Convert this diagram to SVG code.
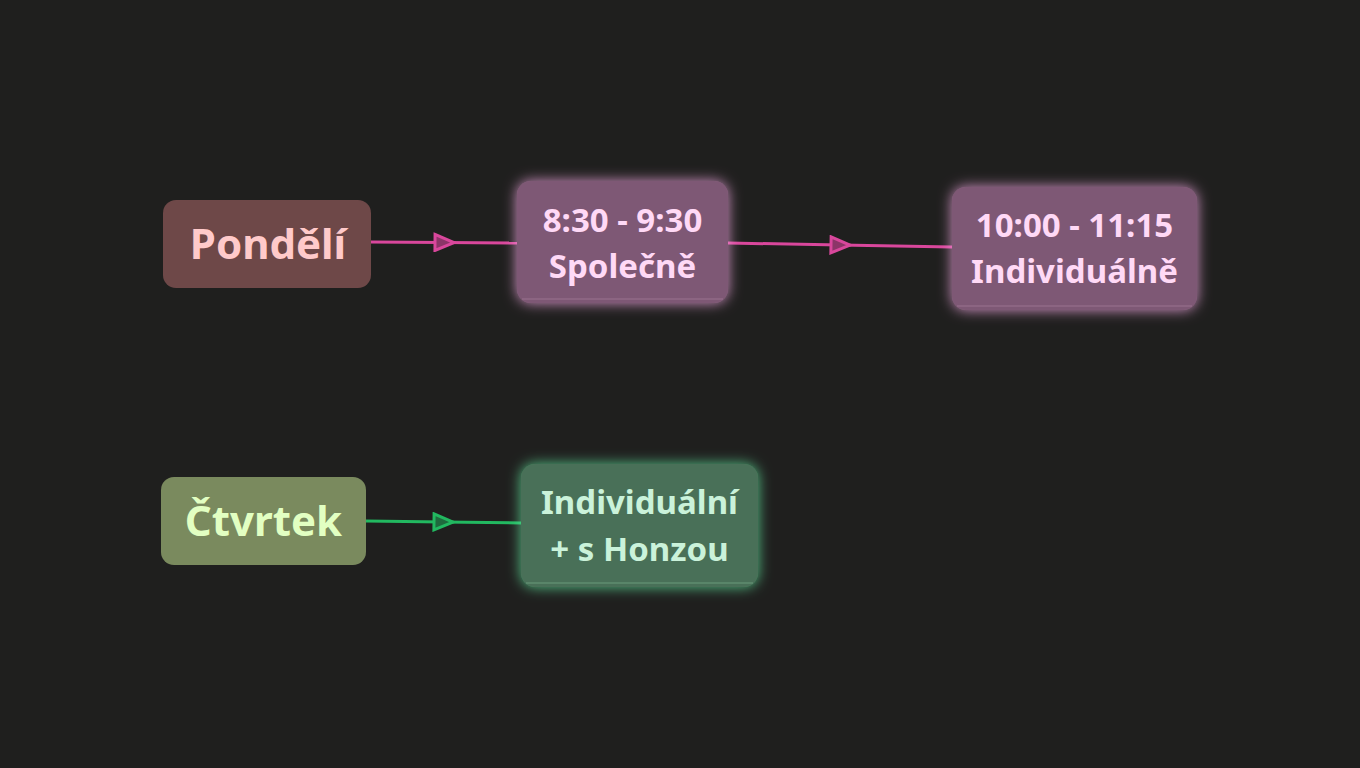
<svg xmlns="http://www.w3.org/2000/svg" width="1360" height="768" viewBox="0 0 1360 768">
<defs>
<style>
text{font-family:"Noto Sans","Open Sans","Liberation Sans",sans-serif;font-weight:700;text-anchor:middle}
.big{font-size:42px}
.mid{font-size:33px}
.edgeP{stroke:#d9479c;stroke-width:3;fill:none}
.edgeG{stroke:#22b860;stroke-width:3;fill:none}
</style>
<filter id="glowP" x="-30%" y="-30%" width="160%" height="160%">
<feGaussianBlur in="SourceAlpha" stdDeviation="7" result="b"/>
<feFlood flood-color="#f2a8e2" flood-opacity="0.85"/>
<feComposite in2="b" operator="in" result="g"/>
<feMerge><feMergeNode in="g"/><feMergeNode in="SourceGraphic"/></feMerge>
</filter>
<filter id="glowG" x="-30%" y="-30%" width="160%" height="160%">
<feGaussianBlur in="SourceAlpha" stdDeviation="7" result="b"/>
<feFlood flood-color="#5fe09a" flood-opacity="0.85"/>
<feComposite in2="b" operator="in" result="g"/>
<feMerge><feMergeNode in="g"/><feMergeNode in="SourceGraphic"/></feMerge>
</filter>
<marker id="arrP" markerWidth="24" markerHeight="20" refX="11" refY="10" orient="auto" markerUnits="userSpaceOnUse">
<path d="M2,2 L21,10 L2,18 Z" fill="#8c3568" stroke="#d9479c" stroke-width="3" stroke-linejoin="miter"/>
</marker>
<marker id="arrG" markerWidth="24" markerHeight="20" refX="11" refY="10" orient="auto" markerUnits="userSpaceOnUse">
<path d="M2,2 L21,10 L2,18 Z" fill="#1f6a3e" stroke="#22b860" stroke-width="3" stroke-linejoin="miter"/>
</marker>
</defs>
<rect width="1360" height="768" fill="#1f1f1e"/>
<g id="connectors">
<path class="edgeP" d="M371,242 L444,242.5 L517,243" marker-mid="url(#arrP)"/>
<path class="edgeP" d="M728,243 L840,245 L952,247" marker-mid="url(#arrP)"/>
<path class="edgeG" d="M366,521 L443,522 L521,523" marker-mid="url(#arrG)"/>
</g>
<g id="node-pondeli">
<rect x="163" y="200" width="208" height="88" rx="13" fill="#6e4848"/>
<text class="big" x="268" y="259" fill="#ffcaca">Pondělí</text>
</g>
<g id="node-spolecne">
<rect x="517" y="181" width="211" height="122" rx="14" fill="#7e5874" filter="url(#glowP)"/>
<rect x="522" y="298" width="201" height="2" fill="#9a7290" opacity="0.5"/>
<text class="mid" x="622.5" y="232" fill="#ffd9f6">8:30 - 9:30</text>
<text class="mid" x="622.5" y="278" fill="#ffd9f6">Společně</text>
</g>
<g id="node-individualne">
<rect x="952" y="187" width="245" height="123" rx="14" fill="#7e5874" filter="url(#glowP)"/>
<rect x="957" y="305" width="235" height="2" fill="#9a7290" opacity="0.5"/>
<text class="mid" x="1074.5" y="237" fill="#ffd9f6">10:00 - 11:15</text>
<text class="mid" x="1074.5" y="283" fill="#ffd9f6">Individuálně</text>
</g>
<g id="node-ctvrtek">
<rect x="161" y="477" width="205" height="88" rx="13" fill="#7a8a5e"/>
<text class="big" x="263.5" y="536" fill="#e2ffc2">Čtvrtek</text>
</g>
<g id="node-honza">
<rect x="521" y="464" width="237" height="123" rx="14" fill="#4a7058" filter="url(#glowG)"/>
<rect x="526" y="582" width="227" height="2" fill="#6a9a7a" opacity="0.5"/>
<text class="mid" x="639.5" y="514" fill="#caf2da">Individuální</text>
<text class="mid" x="639.5" y="561" fill="#caf2da">+ s Honzou</text>
</g>
</svg>
